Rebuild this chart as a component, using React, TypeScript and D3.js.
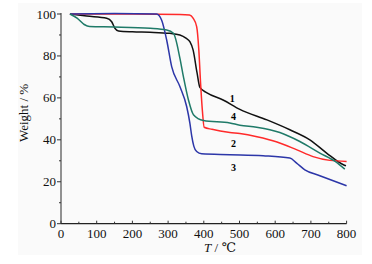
import React from "react";
import * as d3 from "d3";

const xTicks = [0, 100, 200, 300, 400, 500, 600, 700, 800];
const yTicks = [0, 20, 40, 60, 80, 100];

const series1: [number, number][] = [
  [25, 100], [72, 99], [128, 98], [142, 96.3], [151, 93.2], [161, 91.9], [200, 91.5], [249, 91.3], [305, 90.8],
  [333, 90], [350, 88.5], [361, 86.8], [370, 82.9], [381, 72], [389, 65], [409, 62.4], [454, 59], [501, 54.5],
  [577, 49.5], [641, 44.8], [697, 40], [744, 33.7], [791, 28.1], [798, 27.6],
];
const series2: [number, number][] = [
  [25, 100], [200, 100], [333, 99.8], [360, 99.5], [370, 98], [380, 94], [386, 83], [391, 67], [396, 54],
  [401, 46], [423, 45], [473, 43.5], [501, 43], [549, 41.5], [605, 39], [661, 35.2], [706, 32], [753, 30.2],
  [800, 29.7],
];
const series3: [number, number][] = [
  [25, 100], [150, 100.2], [268, 100], [282, 97], [296, 87.6], [310, 74.9], [333, 65.4], [352, 55.9],
  [361, 48], [366, 42], [372, 37], [380, 34.4], [394, 33.3], [473, 32.9], [566, 32.4], [641, 31.3],
  [660, 28.9], [683, 25.7], [725, 22.9], [800, 18.1],
];
const series4: [number, number][] = [
  [25, 100], [45, 98], [65, 95], [80, 94], [150, 93.8], [250, 93.2], [296, 92.4], [315, 90.8], [333, 79],
  [343, 70], [357, 59], [371, 52], [399, 49.2], [473, 48], [501, 47], [548, 46], [585, 44.8], [613, 43.5],
  [669, 39.2], [725, 33.7], [770, 29.5], [795, 26],
];

const seriesList = [
  { data: series1, color: "#111111", label: "1", lx: 480, ly: 58 },
  { data: series2, color: "#ff2a2a", label: "2", lx: 483, ly: 36.5 },
  { data: series3, color: "#2c36a8", label: "3", lx: 483, ly: 25 },
  { data: series4, color: "#1f7a68", label: "4", lx: 483, ly: 49.5 },
];

export default function App() {
  const W = 372, H = 264;
  const x = d3.scaleLinear().domain([0, 800]).range([61, 346.6]);
  const y = d3.scaleLinear().domain([0, 100]).range([223.7, 14]);
  const line = d3
    .line<[number, number]>()
    .x((d) => x(d[0]))
    .y((d) => y(d[1]))
    .curve(d3.curveMonotoneX);
  const xMinor = d3.range(50, 800, 100);
  const yMinor = d3.range(10, 100, 20);
  const font = "Liberation Serif, DejaVu Serif, serif";
  return (
    <svg width={W} height={H} style={{ position: "absolute", left: 0, top: 0 }}>
      <rect x={0} y={0} width={W} height={H} fill="#ffffff" />
      <rect x={18} y={3} width={344} height={252} fill="#fafafa" />
      {seriesList.map((s, i) => (
        <path key={i} d={line(s.data) || ""} fill="none" stroke={s.color} strokeWidth={1.5} />
      ))}
      {seriesList.map((s, i) => (
        <text key={"l" + i} x={x(s.lx)} y={y(s.ly)} fontFamily={font} fontWeight="bold" fontSize={10} textAnchor="middle" fill="#000">
          {s.label}
        </text>
      ))}
      <line x1={x(0)} x2={x(0)} y1={y(0)} y2={y(100) - 1} stroke="#777" strokeWidth={1.6} />
      <line x1={x(0)} x2={x(800)} y1={y(0)} y2={y(0)} stroke="#222" strokeWidth={1.2} />
      {yTicks.map((t) => (
        <g key={"yt" + t}>
          <line x1={x(0) - 4} x2={x(0)} y1={y(t)} y2={y(t)} stroke="#333" strokeWidth={1} />
          <text x={x(0) - 5} y={y(t) + 4.5} fontFamily={font} fontSize={13} textAnchor="end" fill="#111">
            {t}
          </text>
        </g>
      ))}
      {yMinor.map((t) => (
        <line key={"ym" + t} x1={x(0) - 2} x2={x(0)} y1={y(t)} y2={y(t)} stroke="#333" strokeWidth={1} />
      ))}
      {xTicks.map((t) => (
        <g key={"xt" + t}>
          <line x1={x(t)} x2={x(t)} y1={y(0) - 3} y2={y(0)} stroke="#333" strokeWidth={1} />
          <text x={x(t)} y={y(0) + 14} fontFamily={font} fontSize={13} textAnchor="middle" fill="#111">
            {t}
          </text>
        </g>
      ))}
      {xMinor.map((t) => (
        <line key={"xm" + t} x1={x(t)} x2={x(t)} y1={y(0) - 2} y2={y(0)} stroke="#333" strokeWidth={1} />
      ))}
      <text
        transform={`translate(28,113) rotate(-90)`}
        fontFamily={font}
        fontSize={13}
        textAnchor="middle"
        fill="#111"
      >
        Weight / %
      </text>
      <text x={220} y={252} fontFamily={font} fontSize={13} textAnchor="middle" fill="#111">
        <tspan fontStyle="italic">T</tspan> / ℃
      </text>
    </svg>
  );
}
